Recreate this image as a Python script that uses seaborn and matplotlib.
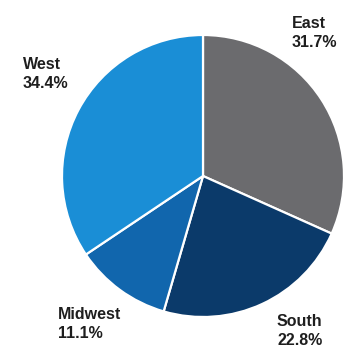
import matplotlib
matplotlib.use("Agg")
import matplotlib.pyplot as plt
import seaborn as sns

sns.set_theme(style="white")
plt.rcParams['font.family'] = ['Liberation Sans', 'DejaVu Sans']

regions = ["East", "South", "Midwest", "West"]
shares = [31.7, 22.8, 11.1, 34.4]
colors = ["#6b6b6e", "#0b3a6a", "#1166ad", "#1a8ed6"]
label_pos = [(292, 16), (277, 314), (58, 307), (23, 57)]  # top-left of label, pixel coords from top

fig = plt.figure(figsize=(3.45, 3.5), dpi=100)
ax = fig.add_axes([0, 0, 1, 1])
ax.pie(shares, colors=colors, startangle=90, counterclock=False,
       radius=141, center=(203, 350 - 176),
       wedgeprops=dict(edgecolor="white", linewidth=1.6))
ax.set_xlim(0, 345)
ax.set_ylim(0, 350)
ax.set_aspect("equal")
ax.axis("off")

for name, val, (x, y) in zip(regions, shares, label_pos):
    ax.text(x, 350 - y, f"{name}\n{val:.1f}%", ha="left", va="top",
            fontsize=11.5, fontweight="bold", color="#1e1e1e", linespacing=1.3)

fig.savefig("out.png", dpi=100, facecolor="white")
